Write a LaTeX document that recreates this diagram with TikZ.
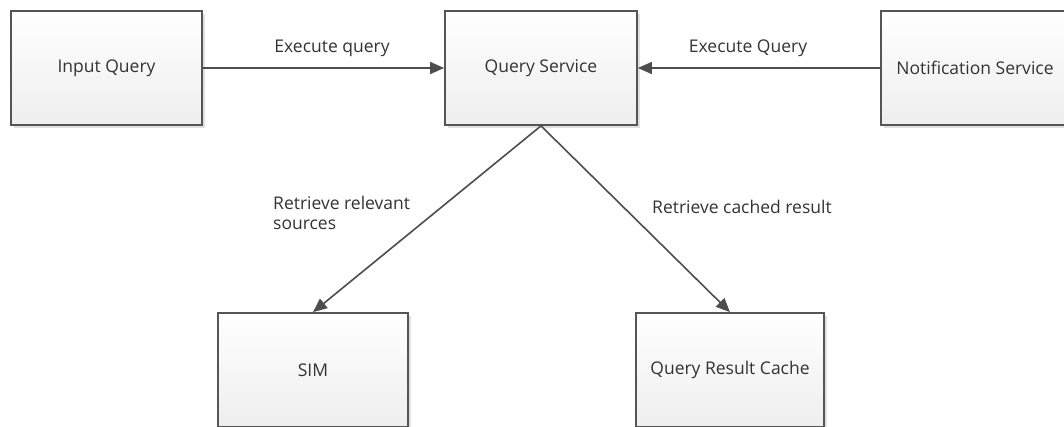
\documentclass[tikz,border=0pt]{standalone}
\usepackage{fontspec}
\setmainfont{Open Sans}
\usetikzlibrary{arrows.meta,shadows}
\definecolor{boxline}{HTML}{555555}
\definecolor{boxfill}{HTML}{EEEEEE}
\definecolor{linkgray}{HTML}{4D4D4D}
\definecolor{textgray}{HTML}{333333}
\begin{document}
\begin{tikzpicture}[x=1pt,y=-1pt,
  font=\fontsize{17.5}{20}\selectfont,
  block/.style={draw=boxline, line width=1.7pt, top color=white, bottom color=boxfill,
    minimum height=114pt, inner sep=0pt, text=textgray,
    drop shadow={shadow xshift=3pt, shadow yshift=-3pt, opacity=0.12, fill=black}},
  link/.style={draw=linkgray, line width=1.6pt,
    -{Triangle[length=14pt, width=12pt]}},
  lbl/.style={text=textgray, inner sep=0pt}]
\useasboundingbox (0,0) rectangle (1064,426);

% upper row
\node[block, minimum width=191pt] (input) at (106.5,68) {Input Query};
\node[block, minimum width=192pt] (qs) at (541,68) {Query Service};
\node[block, minimum width=188pt] (notif) at (975,68) {Notification Service};
% lower row, running past the bottom edge
\node[block, minimum width=190pt] (sim) at (313,370) {SIM};
\node[block, minimum width=188pt] (cache) at (730,370) {Query Result Cache};

\draw[link] (input) -- (qs);
\draw[link] (notif) -- (qs);
\draw[link] (qs.south) -- (sim.north);
\draw[link] (qs.south) -- (cache.north);

\node[lbl] (l1) at (332,48) {Execute query};
\node[lbl] (l2) at (748,48) {Execute Query};
\node[lbl, anchor=north west, align=left] (l3) at (273,196) {Retrieve relevant\\sources};
\node[lbl, anchor=west] (l4) at (652,207) {Retrieve cached result};
\end{tikzpicture}
\end{document}
